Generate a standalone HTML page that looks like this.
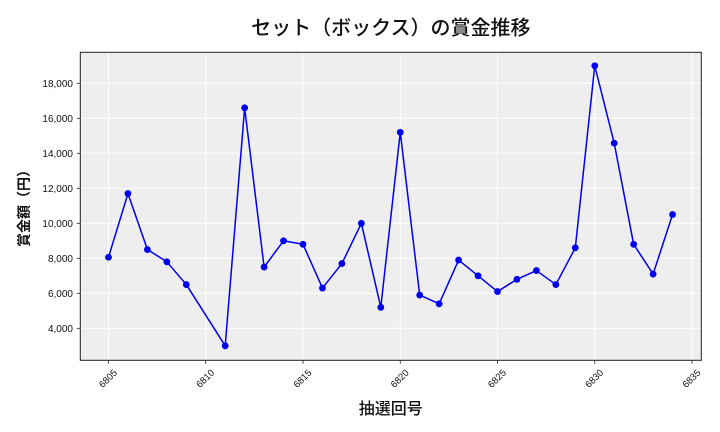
<!DOCTYPE html>
<html><head><meta charset="utf-8"><style>
html,body{margin:0;padding:0;background:#fff;}
svg{display:block;}
text{font-family:"Liberation Sans","Noto Sans CJK JP",sans-serif;}
.jp{font-family:"Noto Sans CJK JP","Liberation Sans",sans-serif;}
</style></head><body>
<svg width="720" height="432" viewBox="0 0 720 432" xmlns="http://www.w3.org/2000/svg">
<rect x="0" y="0" width="720" height="432" fill="#fff"/>
<rect x="80.3" y="52.3" width="621" height="308" fill="#eeeeee"/>
<g stroke="#fff" stroke-width="1">
<line x1="108.5" y1="52.3" x2="108.5" y2="360.3"/>
<line x1="205.75" y1="52.3" x2="205.75" y2="360.3"/>
<line x1="303" y1="52.3" x2="303" y2="360.3"/>
<line x1="400.25" y1="52.3" x2="400.25" y2="360.3"/>
<line x1="497.5" y1="52.3" x2="497.5" y2="360.3"/>
<line x1="594.75" y1="52.3" x2="594.75" y2="360.3"/>
<line x1="692" y1="52.3" x2="692" y2="360.3"/>
<line x1="80.3" y1="328.3" x2="701.3" y2="328.3"/>
<line x1="80.3" y1="293.3" x2="701.3" y2="293.3"/>
<line x1="80.3" y1="258.3" x2="701.3" y2="258.3"/>
<line x1="80.3" y1="223.3" x2="701.3" y2="223.3"/>
<line x1="80.3" y1="188.3" x2="701.3" y2="188.3"/>
<line x1="80.3" y1="153.3" x2="701.3" y2="153.3"/>
<line x1="80.3" y1="118.3" x2="701.3" y2="118.3"/>
<line x1="80.3" y1="83.3" x2="701.3" y2="83.3"/>
</g>
<rect x="80.3" y="52.3" width="621" height="308" fill="none" stroke="#222" stroke-width="1"/>
<g stroke="#222" stroke-width="0.8">
<line x1="108.5" y1="360.3" x2="108.5" y2="363.8"/>
<line x1="205.75" y1="360.3" x2="205.75" y2="363.8"/>
<line x1="303" y1="360.3" x2="303" y2="363.8"/>
<line x1="400.25" y1="360.3" x2="400.25" y2="363.8"/>
<line x1="497.5" y1="360.3" x2="497.5" y2="363.8"/>
<line x1="594.75" y1="360.3" x2="594.75" y2="363.8"/>
<line x1="692" y1="360.3" x2="692" y2="363.8"/>
<line x1="76.8" y1="328.3" x2="80.3" y2="328.3"/>
<line x1="76.8" y1="293.3" x2="80.3" y2="293.3"/>
<line x1="76.8" y1="258.3" x2="80.3" y2="258.3"/>
<line x1="76.8" y1="223.3" x2="80.3" y2="223.3"/>
<line x1="76.8" y1="188.3" x2="80.3" y2="188.3"/>
<line x1="76.8" y1="153.3" x2="80.3" y2="153.3"/>
<line x1="76.8" y1="118.3" x2="80.3" y2="118.3"/>
<line x1="76.8" y1="83.3" x2="80.3" y2="83.3"/>
</g>
<g class="jp" font-size="10" fill="#111" text-anchor="end">
<text x="73" y="331.8">4,000</text>
<text x="73" y="296.8">6,000</text>
<text x="73" y="261.8">8,000</text>
<text x="73" y="226.8">10,000</text>
<text x="73" y="191.8">12,000</text>
<text x="73" y="156.8">14,000</text>
<text x="73" y="121.8">16,000</text>
<text x="73" y="86.8">18,000</text>
</g>
<g class="jp" font-size="9.5" fill="#111" text-anchor="middle" dominant-baseline="central">
<text transform="translate(108.5,379) rotate(-45)">6805</text>
<text transform="translate(205.75,379) rotate(-45)">6810</text>
<text transform="translate(303,379) rotate(-45)">6815</text>
<text transform="translate(400.25,379) rotate(-45)">6820</text>
<text transform="translate(497.5,379) rotate(-45)">6825</text>
<text transform="translate(594.75,379) rotate(-45)">6830</text>
<text transform="translate(692,379) rotate(-45)">6835</text>
</g>
<polyline fill="none" stroke="#0000ee" stroke-width="1.5" stroke-linejoin="round" points="108.5,257.25 127.95,193.55 147.4,249.55 166.85,261.8 186.3,284.55 225.2,345.8 244.65,107.8 264.1,267.05 283.55,240.8 303,244.3 322.45,288.05 341.9,263.55 361.35,223.3 380.8,307.3 400.25,132.3 419.7,295.05 439.15,303.8 458.6,260.05 478.05,275.8 497.5,291.55 516.95,279.3 536.4,270.55 555.85,284.55 575.3,247.8 594.75,65.8 614.2,143.15 633.65,244.3 653.1,274.05 672.55,214.55"/>
<g fill="#0000ee">
<circle cx="108.5" cy="257.25" r="3.4"/>
<circle cx="127.95" cy="193.55" r="3.4"/>
<circle cx="147.4" cy="249.55" r="3.4"/>
<circle cx="166.85" cy="261.8" r="3.4"/>
<circle cx="186.3" cy="284.55" r="3.4"/>
<circle cx="225.2" cy="345.8" r="3.4"/>
<circle cx="244.65" cy="107.8" r="3.4"/>
<circle cx="264.1" cy="267.05" r="3.4"/>
<circle cx="283.55" cy="240.8" r="3.4"/>
<circle cx="303" cy="244.3" r="3.4"/>
<circle cx="322.45" cy="288.05" r="3.4"/>
<circle cx="341.9" cy="263.55" r="3.4"/>
<circle cx="361.35" cy="223.3" r="3.4"/>
<circle cx="380.8" cy="307.3" r="3.4"/>
<circle cx="400.25" cy="132.3" r="3.4"/>
<circle cx="419.7" cy="295.05" r="3.4"/>
<circle cx="439.15" cy="303.8" r="3.4"/>
<circle cx="458.6" cy="260.05" r="3.4"/>
<circle cx="478.05" cy="275.8" r="3.4"/>
<circle cx="497.5" cy="291.55" r="3.4"/>
<circle cx="516.95" cy="279.3" r="3.4"/>
<circle cx="536.4" cy="270.55" r="3.4"/>
<circle cx="555.85" cy="284.55" r="3.4"/>
<circle cx="575.3" cy="247.8" r="3.4"/>
<circle cx="594.75" cy="65.8" r="3.4"/>
<circle cx="614.2" cy="143.15" r="3.4"/>
<circle cx="633.65" cy="244.3" r="3.4"/>
<circle cx="653.1" cy="274.05" r="3.4"/>
<circle cx="672.55" cy="214.55" r="3.4"/>
</g>
<text class="jp" x="390.8" y="26" font-size="20" font-weight="500" fill="#111" text-anchor="middle" dominant-baseline="central">セット（ボックス）の賞金推移</text>
<text class="jp" transform="translate(24,205) rotate(-90)" font-size="14" font-weight="bold" fill="#111" text-anchor="middle" dominant-baseline="central">賞金額（円）</text>
<text class="jp" x="390.8" y="407" font-size="16" font-weight="500" fill="#111" text-anchor="middle" dominant-baseline="central">抽選回号</text>
</svg>
</body></html>
